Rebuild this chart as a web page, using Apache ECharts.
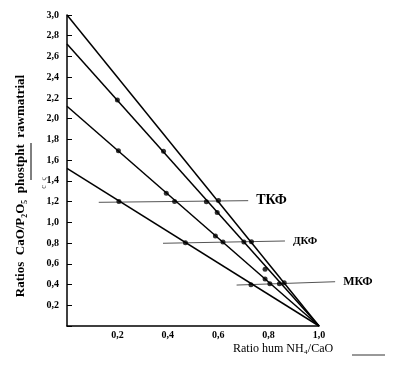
<!DOCTYPE html>
<html>
<head>
<meta charset="utf-8">
<script src="https://cdn.jsdelivr.net/npm/echarts@6/dist/echarts.min.js"></script>
<style>html,body{margin:0;padding:0;background:#fff;}#c{width:402px;height:366px;}</style>
</head>
<body>
<div id="c"></div>
<script>
// ---- data ----
const lineIntercepts = [3.0, 2.72, 2.12, 1.52];   // CaO/P2O5 at NH4/CaO = 0
const convergeX = 1.0;                              // all lines meet at (1.0, 0)
const pointX = [0.200, 0.204, 0.206, 0.383, 0.394, 0.427, 0.553, 0.601, 0.596, 0.589,
                0.619, 0.470, 0.702, 0.732, 0.786, 0.786, 0.805, 0.730, 0.843, 0.862];
const pointY = [2.179, 1.690, 1.202, 1.685, 1.280, 1.202, 1.199, 1.210, 1.096, 0.868,
                0.810, 0.803, 0.810, 0.813, 0.547, 0.453, 0.408, 0.398, 0.408, 0.418];
const refNames = ['ТКФ', 'ДКФ', 'МКФ'];
const refX0 = [0.126, 0.381, 0.673];
const refY0 = [1.193, 0.798, 0.395];
const refX1 = [0.719, 0.865, 1.064];
const refY1 = [1.209, 0.820, 0.427];
const xTickValues = [0.2, 0.4, 0.6, 0.8, 1.0];
const yTickStep = 0.2;
const yTitle = 'Ratios  CaO/P\u2082O\u2085  phostpht  rawmatrial';
const xTitle = 'Ratio hum NH\u2084/CaO';

// ---- chart ----
const chart = echarts.init(document.getElementById('c'), null, {renderer: 'canvas'});
const serif = 'Liberation Serif';
const fmt = v => (Math.abs(v) < 1e-9 ? '' : v.toFixed(1).replace('.', ','));

const series = [];
lineIntercepts.forEach((b, i) => {
  series.push({
    type: 'line', name: 'line' + i, symbol: 'none', silent: true, animation: false,
    lineStyle: {color: '#000', width: 1.5},
    data: [[0, b], [convergeX, 0]]
  });
});
series.push({
  type: 'scatter', name: 'points', symbol: 'circle', symbolSize: 5, animation: false,
  itemStyle: {color: '#000'},
  data: pointX.map((x, i) => [x, pointY[i]]),
  z: 5
});
const refFont = [14, 11, 12];
series.push({
  type: 'custom', name: 'refs', clip: false, silent: true, animation: false,
  encode: {x: [0, 2], y: [1, 3]},
  data: refNames.map((n, i) => [refX0[i], refY0[i], refX1[i], refY1[i], i]),
  renderItem: function (params, api) {
    const p0 = api.coord([api.value(0), api.value(1)]);
    const p1 = api.coord([api.value(2), api.value(3)]);
    const k = api.value(4);
    return {
      type: 'group',
      children: [
        {type: 'line', shape: {x1: p0[0], y1: p0[1], x2: p1[0], y2: p1[1]},
         style: {stroke: '#555', lineWidth: 1}},
        {type: 'text', x: p1[0] + 8, y: p1[1],
         style: {text: refNames[k], fill: '#000',
                 font: 'bold ' + refFont[k] + 'px "Liberation Serif"',
                 align: 'left', verticalAlign: 'middle'}}
      ]
    };
  }
});

chart.setOption({
  animation: false,
  backgroundColor: '#fff',
  grid: {left: 67, right: 83, top: 15, bottom: 40},
  xAxis: {
    type: 'value', min: 0, max: 1.0, interval: 0.2,
    axisLine: {show: true, lineStyle: {color: '#000', width: 1.5}},
    axisTick: {show: false},
    splitLine: {show: false},
    axisLabel: {formatter: fmt, fontFamily: serif, fontWeight: 'bold', fontSize: 10,
                color: '#000', margin: 4,
                customValues: xTickValues}
  },
  yAxis: {
    type: 'value', min: 0, max: 3.0, interval: yTickStep,
    axisLine: {show: true, lineStyle: {color: '#000', width: 1.5}},
    axisTick: {show: true, inside: true, length: 5, lineStyle: {color: '#000', width: 1}},
    splitLine: {show: false},
    axisLabel: {formatter: fmt, fontFamily: serif, fontWeight: 'bold', fontSize: 10,
                color: '#000', margin: 8}
  },
  graphic: [
    {type: 'text', x: 21, y: 186, rotation: Math.PI / 2,
     style: {text: yTitle, font: 'bold 13px "Liberation Serif"', fill: '#000',
             align: 'center', verticalAlign: 'middle'}},
    {type: 'line', shape: {x1: 31, y1: 143, x2: 31, y2: 180},
     style: {stroke: '#000', lineWidth: 1}},
    {type: 'text', x: 44, y: 179, rotation: Math.PI / 2,
     style: {text: '\u03c2', font: '8px "Liberation Serif"', fill: '#333',
             align: 'center', verticalAlign: 'middle'}},
    {type: 'text', x: 44, y: 187, rotation: Math.PI / 2,
     style: {text: 'c', font: '8px "Liberation Serif"', fill: '#333',
             align: 'center', verticalAlign: 'middle'}},
    {type: 'text', x: 233, y: 349,
     style: {text: xTitle, font: '12px "Liberation Serif"', fill: '#000',
             align: 'left', verticalAlign: 'middle'}},
    {type: 'line', shape: {x1: 352, y1: 355, x2: 385, y2: 355},
     style: {stroke: '#333', lineWidth: 1}}
  ],
  series: series
});
</script>
</body>
</html>
